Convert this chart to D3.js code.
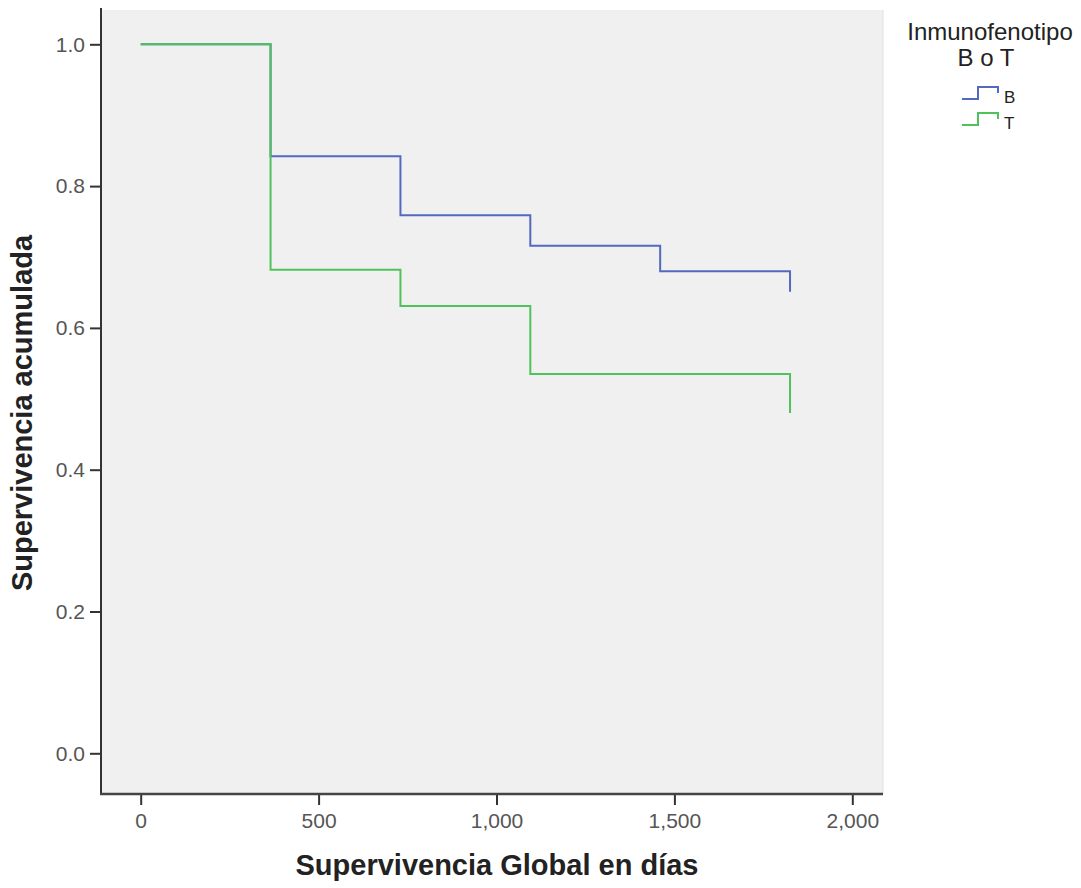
<!DOCTYPE html>
<html>
<head>
<meta charset="utf-8">
<script src="https://cdn.jsdelivr.net/npm/d3@7"></script>
<style>
  body { margin: 0; background: #fff; }
  svg { display: block; font-family: "Liberation Sans", Arial, sans-serif; }
</style>
</head>
<body>
<svg id="chart" width="1081" height="888"></svg>
<script>
// Kaplan-Meier steps
const timesB = [0, 365, 730, 1095, 1460, 1825];
const survB = [1.0, 0.842, 0.759, 0.716, 0.680, 0.651];
const timesT = [0, 365, 730, 1095, 1825];
const survT = [1.0, 0.682, 0.631, 0.535, 0.480];

const groups = ['B', 'T'];
const xTicks = [0, 500, 1000, 1500, 2000];
const yTicks = [0, 0.2, 0.4, 0.6, 0.8, 1.0];

const COLORS = { B: '#5369bf', T: '#4fc25c' };

const PLOT = { left: 101, right: 883, top: 10, bottom: 794 };

const svg = d3.select('#chart');

const x = d3.scaleLinear().domain([0, 2000]).range([140.7, 852.3]);
const y = d3.scaleLinear().domain([0, 1]).range([753.3, 44.3]);

// plot background
svg.append('rect')
  .attr('x', PLOT.left).attr('y', PLOT.top)
  .attr('width', PLOT.right - PLOT.left).attr('height', PLOT.bottom - PLOT.top)
  .attr('fill', '#f0f0f0');
svg.append('line')
  .attr('x1', PLOT.right).attr('x2', PLOT.right)
  .attr('y1', PLOT.top).attr('y2', PLOT.bottom)
  .attr('stroke', '#e2e2e2');

// axes
const xAxis = d3.axisBottom(x).tickValues(xTicks).tickFormat(d3.format(','))
  .tickSizeInner(11).tickSizeOuter(0).tickPadding(8);
const yAxis = d3.axisLeft(y).tickValues(yTicks).tickFormat(d3.format('.1f'))
  .tickSizeInner(11).tickSizeOuter(0).tickPadding(5);

const gx = svg.append('g').attr('transform', `translate(0,${PLOT.bottom})`).call(xAxis);
const gy = svg.append('g').attr('transform', `translate(${PLOT.left},0)`).call(yAxis);

for (let g of [gx, gy]) {
  g.select('.domain').remove();
  g.selectAll('.tick line').attr('stroke', '#333').attr('stroke-width', 2);
  g.selectAll('.tick text').attr('fill', '#555').attr('font-size', 21)
    .attr('font-family', '"Liberation Sans", Arial, sans-serif');
}

svg.append('line')
  .attr('x1', PLOT.left).attr('x2', PLOT.left)
  .attr('y1', PLOT.top - 2).attr('y2', PLOT.bottom + 1)
  .attr('stroke', '#333').attr('stroke-width', 2);
svg.append('line')
  .attr('x1', PLOT.left - 1).attr('x2', PLOT.right)
  .attr('y1', PLOT.bottom).attr('y2', PLOT.bottom)
  .attr('stroke', '#444').attr('stroke-width', 2.5);

// survival curves
const line = d3.line()
  .x(d => x(d[0]))
  .y(d => y(d[1]))
  .curve(d3.curveStepAfter);

const series = {
  B: d3.zip(timesB, survB),
  T: d3.zip(timesT, survT)
};

for (let k of groups) {
  svg.append('path')
    .attr('d', line(series[k]))
    .attr('fill', 'none')
    .attr('stroke', COLORS[k])
    .attr('stroke-width', 2);
}

// axis titles
svg.append('text')
  .attr('x', 497).attr('y', 875)
  .attr('text-anchor', 'middle')
  .attr('font-size', 29).attr('font-weight', 'bold').attr('fill', '#222')
  .text('Supervivencia Global en días');

svg.append('text')
  .attr('transform', 'translate(32,413) rotate(-90)')
  .attr('text-anchor', 'middle')
  .attr('font-size', 29).attr('font-weight', 'bold').attr('fill', '#222')
  .text('Supervivencia acumulada');

// legend
const legend = svg.append('g');
legend.append('text')
  .attr('x', 990).attr('y', 40).attr('text-anchor', 'middle')
  .attr('font-size', 24).attr('fill', '#222')
  .text('Inmunofenotipo');
legend.append('text')
  .attr('x', 986).attr('y', 66).attr('text-anchor', 'middle')
  .attr('font-size', 24).attr('fill', '#222')
  .text('B o T');

groups.forEach((k, i) => {
  const yy = 99 + i * 26;
  legend.append('path')
    .attr('d', `M962,${yy} H978 V${yy - 12} H998 V${yy - 6}`)
    .attr('fill', 'none')
    .attr('stroke', COLORS[k])
    .attr('stroke-width', 2);
  legend.append('text')
    .attr('x', 1004).attr('y', yy + 4)
    .attr('font-size', 17).attr('fill', '#222')
    .text(k);
});
</script>
</body>
</html>
